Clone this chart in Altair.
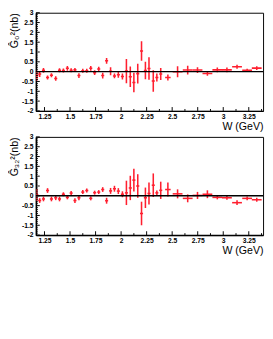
import altair as alt
import pandas as pd

# ---- data ----
W = [1.175, 1.203, 1.240, 1.280, 1.318, 1.360, 1.397, 1.435, 1.474, 1.511,
     1.548, 1.587, 1.625, 1.664, 1.703, 1.741, 1.781, 1.820, 1.858, 1.897,
     1.935, 1.973, 2.013, 2.052, 2.090, 2.125, 2.163, 2.200, 2.238, 2.273,
     2.315, 2.350, 2.388, 2.458, 2.553, 2.652, 2.748, 2.845, 2.942, 3.036,
     3.135, 3.234, 3.328]
W_ERR = [0.015, 0.015, 0.015, 0.015, 0.015, 0.015, 0.015, 0.015, 0.015, 0.015,
         0.015, 0.015, 0.015, 0.015, 0.015, 0.015, 0.015, 0.015, 0.015, 0.015,
         0.015, 0.015, 0.015, 0.015, 0.015, 0.015, 0.015, 0.015, 0.015, 0.015,
         0.015, 0.015, 0.015, 0.027, 0.048, 0.048, 0.048, 0.048, 0.048, 0.048,
         0.048, 0.048, 0.048]

G0 = [-0.20, -0.12, 0.07, -0.30, -0.18, -0.35, 0.07, 0.06, 0.17, 0.07,
      0.09, -0.20, 0.05, 0.05, 0.17, -0.05, 0.13, -0.20, 0.55, 0.02,
      -0.22, -0.16, -0.25, 0.03, -0.26, -0.55, -0.10, 1.05, 0.06, 0.16,
      -0.48, -0.30, -0.12, -0.30, 0.00, 0.08, 0.08, -0.09, 0.09, 0.09,
      0.25, 0.07, 0.18]
G0_ERR = [0.25, 0.15, 0.12, 0.10, 0.10, 0.12, 0.10, 0.10, 0.12, 0.10,
          0.10, 0.12, 0.10, 0.10, 0.12, 0.12, 0.12, 0.15, 0.15, 0.20,
          0.12, 0.15, 0.15, 0.62, 0.52, 0.50, 0.50, 0.50, 0.45, 0.57,
          0.55, 0.20, 0.30, 0.15, 0.28, 0.22, 0.15, 0.12, 0.12, 0.12,
          0.10, 0.08, 0.10]

G2 = [0.05, -0.24, -0.16, 0.27, -0.16, -0.10, -0.16, 0.08, -0.08, 0.14,
      -0.24, -0.10, 0.19, 0.27, -0.13, 0.16, 0.19, 0.32, -0.25, 0.25,
      0.36, 0.24, 0.08, 0.15, 0.40, 0.80, 0.50, -0.90, -0.10, 0.12,
      0.54, 0.15, 0.28, 0.32, 0.10, -0.13, 0.02, 0.08, -0.08, -0.10,
      -0.35, -0.13, -0.20]
G2_ERR = [0.30, 0.12, 0.12, 0.12, 0.12, 0.12, 0.12, 0.10, 0.10, 0.10,
          0.12, 0.12, 0.10, 0.10, 0.10, 0.10, 0.10, 0.12, 0.15, 0.15,
          0.15, 0.15, 0.15, 0.62, 0.62, 0.58, 0.60, 0.60, 0.52, 0.56,
          0.60, 0.12, 0.44, 0.36, 0.23, 0.20, 0.18, 0.20, 0.10, 0.10,
          0.12, 0.10, 0.10]

X_TICKS = [1.25, 1.5, 1.75, 2.0, 2.25, 2.5, 2.75, 3.0, 3.25]
X_MINOR = [1.375, 1.625, 1.875, 2.125, 2.375, 2.625, 2.875, 3.125, 3.375]
Y_TICKS = [-2, -1.5, -1, -0.5, 0, 0.5, 1, 1.5, 2, 2.5, 3]
Y_MINOR = [round(-2 + 0.1 * i, 1) for i in range(51) if i % 5]

TITLE_TOP = "Ĝ₀²(nb)"
TITLE_BOT = "Ĝ₃₂²(nb)"

X_DOMAIN = [1.166, 3.39]
Y_DOMAIN = [-2, 3]
PW, PH = 236, 102
RED = "#ff1f2f"
FONT = "Liberation Sans"


def panel(vals, errs, title):
    df = pd.DataFrame({
        "W": W, "v": vals,
        "lo": [v - e for v, e in zip(vals, errs)],
        "hi": [v + e for v, e in zip(vals, errs)],
        "wl": [w - e for w, e in zip(W, W_ERR)],
        "wh": [w + e for w, e in zip(W, W_ERR)],
    })
    xs = alt.Scale(domain=X_DOMAIN, nice=False, zero=False)
    ys = alt.Scale(domain=Y_DOMAIN, nice=False, zero=False)
    common = dict(ticks=False, grid=False, domainColor="black", domainWidth=1.5,
                  labelFontSize=7, labelFont=FONT, labelFontWeight="bold",
                  labelColor="black", labelOverlap=False, labelFlush=False,
                  tickCount=50,
                  labelExpr="'' + datum.value", titleFontSize=11,
                  titleFont=FONT, titleFontWeight="normal", titleColor="black")
    xaxis = alt.Axis(values=X_TICKS, title="W (GeV)", labelPadding=2,
                     titleX=PW, titleY=10, titleAlign="right",
                     titleBaseline="top", **common)
    yaxis = alt.Axis(values=Y_TICKS, title=title, labelPadding=3,
                     titleX=-28, titleY=0, titleAngle=270, titleAlign="right",
                     titleBaseline="top", **common)
    base = alt.Chart(df)
    vbar = base.mark_rule(color=RED, strokeWidth=1.6, clip=True).encode(
        x=alt.X("W:Q", scale=xs, axis=xaxis),
        y=alt.Y("lo:Q", scale=ys, axis=yaxis), y2="hi:Q")
    hbar = base.mark_rule(color=RED, strokeWidth=1.6, clip=True).encode(
        x=alt.X("wl:Q", scale=xs), x2="wh:Q", y=alt.Y("v:Q", scale=ys))
    zero = alt.Chart(pd.DataFrame({"z": [0.0]})).mark_rule(
        color="black", strokeWidth=1.5).encode(y=alt.Y("z:Q", scale=ys))
    ymaj = alt.Chart(pd.DataFrame({"t": Y_TICKS})).mark_rule(
        color="black", strokeWidth=1).encode(
        y=alt.Y("t:Q", scale=ys), x=alt.value(0), x2=alt.value(4))
    ymin = alt.Chart(pd.DataFrame({"t": Y_MINOR})).mark_rule(
        color="black", strokeWidth=1).encode(
        y=alt.Y("t:Q", scale=ys), x=alt.value(0), x2=alt.value(2))
    xmaj = alt.Chart(pd.DataFrame({"t": X_TICKS})).mark_rule(
        color="black", strokeWidth=1).encode(
        x=alt.X("t:Q", scale=xs), y=alt.value(PH), y2=alt.value(PH - 4))
    xmin = alt.Chart(pd.DataFrame({"t": X_MINOR})).mark_rule(
        color="black", strokeWidth=1).encode(
        x=alt.X("t:Q", scale=xs), y=alt.value(PH), y2=alt.value(PH - 2))
    return alt.layer(vbar, hbar, zero, ymaj, ymin, xmaj, xmin).properties(
        width=PW, height=PH)


chart = alt.vconcat(
    panel(G0, G0_ERR, TITLE_TOP),
    panel(G2, G2_ERR, TITLE_BOT),
    spacing=27, bounds="flush",
).properties(
    padding={"left": 0, "top": -5, "right": 0, "bottom": 0},
    background="white",
).configure_view(stroke="black", strokeWidth=1)

chart.save("out.html", embed_options={"renderer": "svg", "actions": False})
